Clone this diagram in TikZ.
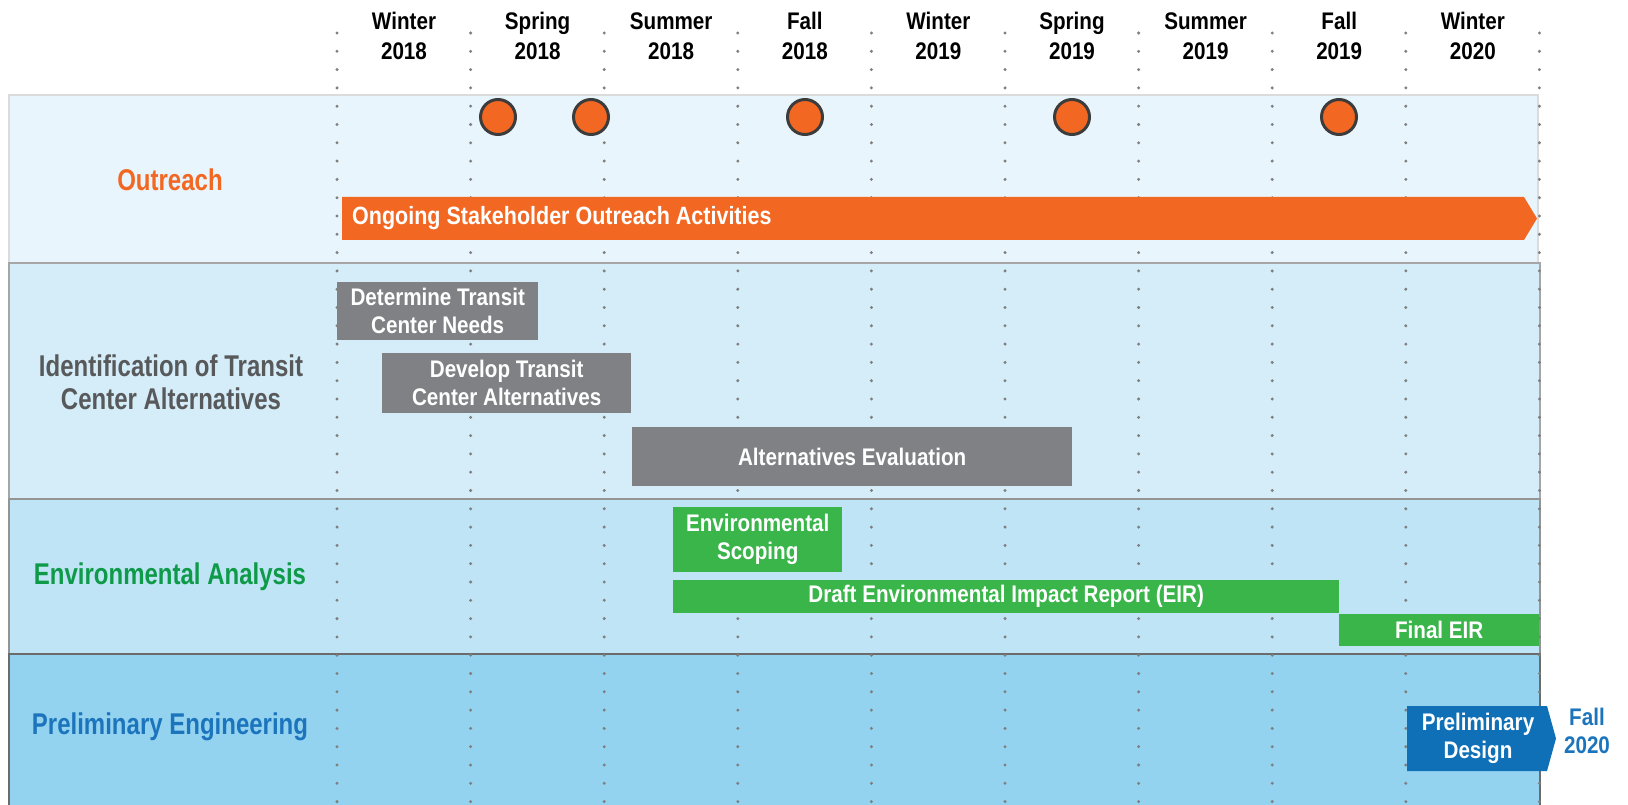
\documentclass[tikz,border=0pt]{standalone}
\usepackage{fontspec}
\setmainfont{Liberation Sans}[FakeStretch=0.86]
\newfontfamily\lanefont{Liberation Sans}[FakeStretch=0.8]
\usetikzlibrary{positioning}

\definecolor{outorange}{HTML}{F26722}
\definecolor{idgray}{HTML}{58595B}
\definecolor{envgreen}{HTML}{0E9A48}
\definecolor{peblue}{HTML}{1C75BC}
\definecolor{bargray}{HTML}{808184}
\definecolor{bargreen}{HTML}{39B54A}
\definecolor{barblue}{HTML}{0F70B7}
\definecolor{ringgray}{HTML}{3C3C3C}
\definecolor{dotgray}{HTML}{7F7F7F}
\definecolor{laneA}{HTML}{E8F5FC}
\definecolor{laneB}{HTML}{D4EDF9}
\definecolor{laneC}{HTML}{BEE4F6}
\definecolor{laneD}{HTML}{93D3F0}

\begin{document}
\begin{tikzpicture}[x=1pt,y=-1pt,
  hd/.style={align=center,font=\fontsize{24}{30}\selectfont\bfseries},
  lanelabel/.style={align=center,font=\lanefont\fontsize{30}{33}\selectfont\bfseries},
  bar/.style={anchor=north west,inner sep=0pt,text=white,align=center,
    font=\fontsize{24}{28}\selectfont\bfseries},
  ms/.style={circle,fill=outorange,draw=ringgray,line width=3pt,minimum size=35pt,inner sep=0pt},
  gridline/.style={dotgray,line width=3.3pt,line cap=round,dash pattern=on 0pt off 18.3pt}]
  \useasboundingbox (0,0) rectangle (1628,805);

  % lanes
  \filldraw[fill=laneA,draw=black!14,line width=1.2pt] (9,95) rectangle (1538,263);
  \filldraw[fill=laneB,draw=black!35,line width=1.5pt] (9,263) rectangle (1540,499);
  \filldraw[fill=laneC,draw=black!42,line width=1.5pt] (9,499) rectangle (1540,654);
  \filldraw[fill=laneD,draw=black!58,line width=1.5pt] (9,654) rectangle (1540,812);

  % season grid
  \foreach \i in {0,...,9}
    \draw[gridline] ({337+133.6*\i},33) -- ({337+133.6*\i},805);

  \foreach \s/\y [count=\i from 0] in {Winter/2018,Spring/2018,Summer/2018,Fall/2018,
      Winter/2019,Spring/2019,Summer/2019,Fall/2019,Winter/2020}
    \node[hd] (h\i) at ({404+133.6*\i},36) {\s\\\y};

  % lane labels
  \node[lanelabel,text=outorange] (outreach) at (170,180) {Outreach};
  \node[lanelabel,text=idgray] (ident) at (171,382) {Identification of Transit\\Center Alternatives};
  \node[lanelabel,text=envgreen] (env) at (170,577) {Environmental Analysis};
  \node[lanelabel,text=peblue] (prelim) at (170,727) {Preliminary Engineering};

  % outreach
  \node[ms] (m1) at (498,117) {};
  \node[ms] (m2) at (591,117) {};
  \node[ms] (m3) at (805,117) {};
  \node[ms] (m4) at (1072,117) {};
  \node[ms] (m5) at (1339,117) {};
  \fill[outorange] (342,197) -- (1524,197) -- (1537,218.5) -- (1524,240) -- (342,240) -- cycle;
  \node[anchor=west,inner sep=0pt,text=white,font=\fontsize{25}{28}\selectfont\bfseries]
    (ongoing) at (352,218.5) {Ongoing Stakeholder Outreach Activities};

  % transit center alternatives
  \node[bar,fill=bargray,minimum width=201pt,minimum height=58pt] (needs) at (337,282) {Determine Transit\\Center Needs};
  \node[bar,fill=bargray,minimum width=249pt,minimum height=60pt] (develop) at (382,353) {Develop Transit\\Center Alternatives};
  \node[bar,fill=bargray,minimum width=440pt,minimum height=59pt] (evaluation) at (632,427) {Alternatives Evaluation};

  % environmental
  \node[bar,fill=bargreen,minimum width=169pt,minimum height=65pt] (scoping) at (673,507) {Environmental\\Scoping};
  \node[bar,fill=bargreen,minimum width=666pt,minimum height=33pt] (draft) at (673,580) {Draft Environmental Impact Report (EIR)};
  \node[bar,fill=bargreen,minimum width=200pt,minimum height=32pt] (final) at (1339,614) {Final EIR};

  % engineering
  \fill[barblue] (1407,706) -- (1547,706) -- (1556,738.5) -- (1547,771) -- (1407,771) -- cycle;
  \node[align=center,inner sep=0pt,text=white,font=\fontsize{24}{28}\selectfont\bfseries]
    (design) at (1478,738.5) {Preliminary\\Design};
  \node[align=center,inner sep=0pt,text=peblue,font=\fontsize{24}{28}\selectfont\bfseries]
    (fall) at (1587,731) {Fall\\2020};
\end{tikzpicture}
\end{document}
